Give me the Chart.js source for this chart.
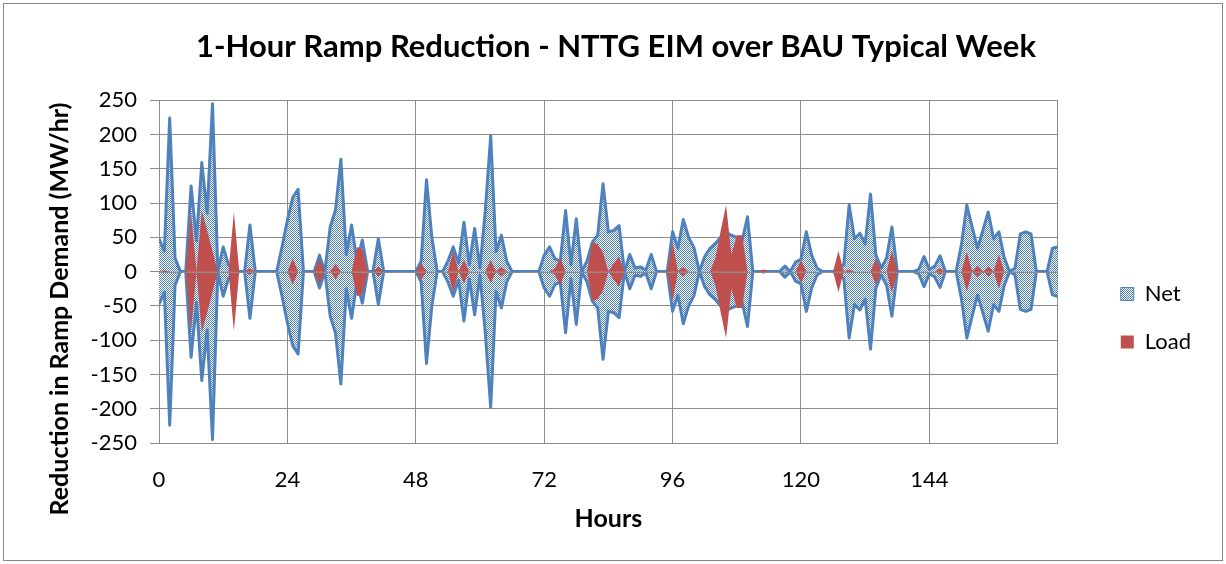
<!DOCTYPE html>
<html>
<head>
<meta charset="utf-8">
<script src="https://cdn.jsdelivr.net/npm/chart.js@4.4.1/dist/chart.umd.min.js"></script>
<style>
    html, body { margin: 0; padding: 0; background: #fff; }
</style>
</head>
<body>
<canvas id="rampChart" width="1226" height="564"></canvas>
<script>
const chartTitle = '1-Hour Ramp Reduction - NTTG EIM over BAU Typical Week';
const yAxisTitle = 'Reduction in Ramp Demand (MW/hr)';
const xAxisTitle = 'Hours';
const legendNames = ['Net', 'Load'];

// one value per hour, hour 0 .. 168
const hours = Array.from({ length: 169 }, (_, h) => h);

const net = [
    48, 30, 224, 20, 0, 0, 125, 45, 159, 85, 245, 0,      // 0-11
    36, 10, 0, 0, 0, 68, 0, 0, 0, 0, 0, 36,               // 12-23
    75, 108, 120, 0, 0, 0, 24, 0, 65, 90, 164, 25,        // 24-35
    68, 15, 46, 0, 0, 48, 0, 0, 0, 0, 0, 0,               // 36-47
    0, 15, 134, 50, 0, 0, 15, 36, 12, 72, 10, 63,         // 48-59
    5, 90, 198, 29, 53, 15, 0, 0, 0, 0, 0, 0,             // 60-71
    24, 36, 19, 15, 89, 10, 77, 0, 15, 43, 53, 128,       // 72-83
    58, 60, 67, 0, 25, 5, 7, 2, 25, 0, 0, 0,              // 84-95
    58, 34, 76, 50, 35, 0, 22, 34, 41, 50, 57, 53,        // 96-107
    50, 45, 80, 0, 0, 0, 0, 0, 0, 8, 0, 14,               // 108-119
    18, 58, 24, 5, 0, 0, 0, 5, 10, 97, 48, 56,            // 120-131
    40, 113, 24, 5, 20, 65, 0, 0, 0, 0, 3, 22,            // 132-143
    3, 8, 23, 0, 0, 0, 40, 97, 65, 34, 60, 87,            // 144-155
    48, 58, 20, 0, 5, 55, 58, 55, 0, 0, 0, 34,            // 156-167
    36                                                    // 168
];

const load = [
    0, 2, 0, 0, 0, 0, 87, 0, 89, 60, 30, 0,
    0, 0, 87, 0, 0, 5, 0, 0, 0, 0, 0, 0,
    0, 19, 0, 0, 0, 0, 18, 0, 0, 11, 0, 0,
    0, 36, 33, 0, 0, 7, 0, 0, 0, 0, 0, 0,
    0, 12, 0, 0, 0, 0, 0, 30, 0, 17, 0, 0,
    0, 0, 17, 0, 7, 0, 0, 0, 0, 0, 0, 0,
    0, 0, 5, 20, 0, 0, 0, 0, 0, 43, 40, 28,
    0, 12, 22, 0, 0, 0, 0, 0, 0, 0, 0, 0,
    43, 0, 7, 0, 0, 0, 0, 0, 20, 60, 97, 25,
    53, 53, 0, 0, 0, 3, 0, 0, 0, 0, 0, 0,
    17, 0, 0, 0, 0, 0, 0, 30, 0, 3, 0, 0,
    0, 0, 19, 0, 0, 31, 0, 0, 0, 0, 0, 0,
    0, 0, 5, 0, 0, 0, 0, 29, 0, 8, 0, 7,
    0, 25, 0, 0, 0, 0, 0, 0, 0, 0, 0, 0,
    0
];

const yMin = -250;
const yMax = 250;
const yStep = 50;
const xGridHours = [0, 24, 48, 72, 96, 120, 144, 168];
const xTickLabels = [0, 24, 48, 72, 96, 120, 144];

const netBlue = '#4f81bd';
const loadRed = '#c0504d';
const gridGrey = '#8c8c8c';

Chart.defaults.font.family = 'Lato';
Chart.defaults.color = '#000';

function makeHatch() {
    // small blue / white checker like the Excel pattern fill
    const c = document.createElement('canvas');
    c.width = 2;
    c.height = 2;
    const g = c.getContext('2d');
    g.fillStyle = '#ffffff';
    g.fillRect(0, 0, 2, 2);
    g.fillStyle = netBlue;
    g.fillRect(0, 0, 1, 1);
    g.fillRect(1, 1, 1, 1);
    return g.createPattern(c, 'repeat');
}

const netPattern = makeHatch();

function points(values, sign) {
    return values.map((v, i) => ({ x: hours[i], y: sign * v }));
}

// each series is drawn twice, mirrored around zero
const netStyle = {
    fill: 'origin',
    backgroundColor: netPattern,
    borderColor: netBlue,
    borderWidth: 3,
    borderJoinStyle: 'round',
    pointRadius: 0,
    tension: 0,
    order: 2
};
const loadStyle = {
    fill: 'origin',
    backgroundColor: loadRed,
    borderColor: 'rgba(0,0,0,0)',
    borderWidth: 0,
    pointRadius: 0,
    tension: 0,
    order: 1
};

// plot frame, zero axis on top, rotated y title
const chartFrame = {
    id: 'chartFrame',
    beforeDraw(chart) {
        const { ctx, width, height } = chart;
        ctx.save();
        ctx.fillStyle = '#fff';
        ctx.fillRect(0, 0, width, height);
        ctx.strokeStyle = '#868686';
        ctx.lineWidth = 1;
        ctx.strokeRect(3.5, 3.5, width - 7, height - 7);
        ctx.restore();
    }
};

const zeroAxis = {
    id: 'zeroAxis',
    afterDatasetsDraw(chart) {
        const { ctx, chartArea: { left, right }, scales: { y } } = chart;
        const y0 = Math.round(y.getPixelForValue(0)) + 0.5;
        ctx.save();
        ctx.strokeStyle = gridGrey;
        ctx.lineWidth = 1;
        ctx.beginPath();
        ctx.moveTo(left, y0);
        ctx.lineTo(right, y0);
        ctx.stroke();
        ctx.restore();
    }
};

const yTitle = {
    id: 'yTitle',
    afterDraw(chart) {
        const { ctx } = chart;
        ctx.save();
        ctx.translate(60, 309);
        ctx.rotate(-Math.PI / 2);
        ctx.font = 'bold 25px Lato';
        ctx.fillStyle = '#000';
        ctx.textAlign = 'center';
        ctx.textBaseline = 'middle';
        ctx.fillText(yAxisTitle, 0, 0);
        ctx.restore();
    }
};

const config = {
    type: 'line',
    data: {
        datasets: [
            { label: 'Net', data: points(net, 1), ...netStyle },
            { label: 'Net mirror', data: points(net, -1), ...netStyle },
            { label: 'Load', data: points(load, 1), ...loadStyle },
            { label: 'Load mirror', data: points(load, -1), ...loadStyle }
        ]
    },
    options: {
        responsive: false,
        animation: false,
        devicePixelRatio: 1,
        layout: {
            padding: { left: 31, right: 25, top: 8, bottom: 4 }
        },
        plugins: {
            title: {
                display: true,
                text: chartTitle,
                font: { size: 31, weight: 'bold' },
                padding: { top: 20, bottom: 35 }
            },
            legend: {
                position: 'right',
                title: {
                    display: true,
                    text: ' ',
                    font: { size: 10 },
                    padding: { top: 56, bottom: 0 }
                },
                labels: {
                    font: { size: 22 },
                    boxWidth: 13,
                    boxHeight: 13,
                    padding: 26,
                    sort: (a, b) => a.datasetIndex - b.datasetIndex,
                    generateLabels(chart) {
                        return Chart.defaults.plugins.legend.labels.generateLabels(chart)
                            .filter(item => legendNames.includes(item.text))
                            .map(item => ({ ...item, lineWidth: 1 }));
                    }
                }
            },
            tooltip: { enabled: false }
        },
        scales: {
            x: {
                type: 'linear',
                min: 0,
                max: 168,
                afterBuildTicks(scale) {
                    scale.ticks = xGridHours.map(v => ({ value: v }));
                },
                grid: { color: gridGrey, drawTicks: false },
                border: { color: gridGrey },
                ticks: {
                    padding: 24,
                    font: { size: 22 },
                    maxRotation: 0,
                    callback: v => xTickLabels.includes(v) ? v : ''
                },
                title: {
                    display: true,
                    text: xAxisTitle,
                    font: { size: 25, weight: 'bold' },
                    padding: { top: 0, bottom: 26 }
                },
                afterFit(scale) { scale.height = 117; }
            },
            y: {
                min: yMin,
                max: yMax,
                ticks: { stepSize: yStep, padding: 13, font: { size: 22 } },
                grid: { color: gridGrey, tickLength: 9 },
                border: { color: gridGrey },
                afterFit(scale) { scale.width = 128; }
            },
            legendGap: {
                type: 'linear',
                position: 'right',
                grid: { display: false },
                border: { display: false },
                ticks: { display: false },
                afterFit(scale) { scale.width = 37; }
            }
        }
    },
    plugins: [chartFrame, zeroAxis, yTitle]
};

const rampChart = new Chart(document.getElementById('rampChart'), config);
</script>
</body>
</html>
